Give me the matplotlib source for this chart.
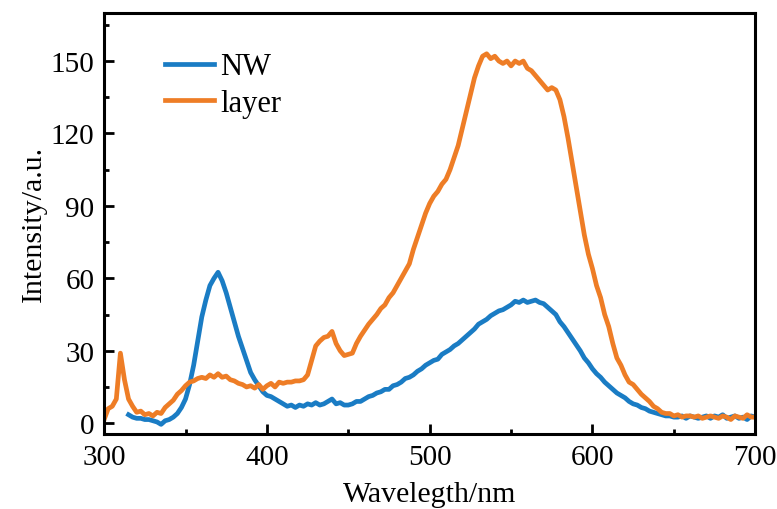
import numpy as np
import matplotlib
matplotlib.use("Agg")
import matplotlib.pyplot as plt
from matplotlib.ticker import MultipleLocator

# --- DATA (2.5 nm sampling) ---
STEP = 2.5

# layer: 300 .. 700 nm
layer = [
    1.5, 6, 7, 10, 29, 18, 10, 7, 4.5, 5,
    3.5, 4, 3, 4.5, 4, 6.5, 8, 9.5, 12, 13.5,
    15.5, 17, 17.5, 18.5, 19, 18.5, 20, 19, 20.5, 19,
    19.5, 18, 17.5, 16.5, 16, 15, 15.5, 14.5, 16, 14,
    15.5, 16.5, 15, 17, 16.5, 17, 17, 17.5, 17.5, 18,
    20, 26, 32, 34, 35.5, 36, 38, 33, 30, 28,
    28.5, 29, 33, 36, 38.5, 41, 43, 45, 47.5, 49,
    52, 54, 57, 60, 63, 66, 72, 77, 82, 87,
    91, 94, 96, 99, 101, 105, 110, 115, 122, 129,
    136, 143, 148, 152, 153, 151, 152, 150, 149, 150,
    148, 150, 149, 150, 147, 146, 144, 142, 140, 138,
    139, 138, 134, 127, 118, 108, 98, 88, 78, 70,
    64, 57, 52, 45, 40, 33, 27, 24, 20, 17,
    16, 14, 12, 10.5, 9, 7, 6, 4.5, 4, 4,
    3, 3.5, 2.5, 3, 3, 2.5, 3, 2, 2.5, 3,
    2.5, 2, 3, 2.5, 1.5, 3, 2.5, 2, 3.5, 2.5,
    2.5,
]

# NW: 315 .. 700 nm
nw = [
    3.5, 2.5, 2, 2, 1.5, 1.5, 1, 0.5, -0.5, 1,
    1.5, 2.5, 4, 6.5, 10, 16, 24, 34, 44, 51,
    57, 60, 62.5, 59, 54, 48, 42, 36, 31, 26,
    21, 18, 15.5, 13, 11.5, 11, 10, 9, 8, 7,
    7.5, 6.5, 7.5, 7, 8, 7.5, 8.5, 7.5, 8, 9,
    10, 8, 8.5, 7.5, 7.5, 8, 9, 9, 10, 11,
    11.5, 12.5, 13, 14, 14, 15.5, 16, 17, 18.5, 19,
    20, 21.5, 22.5, 24, 25, 26, 26.5, 28.5, 29.5, 30.5,
    32, 33, 34.5, 36, 37.5, 39, 41, 42, 43, 44.5,
    45.5, 46.5, 47, 48, 49, 50.5, 50, 51, 50, 50.5,
    51, 50, 49.5, 48, 46.5, 45, 42, 40, 37.5, 35,
    32.5, 30, 27, 25, 22.5, 20.5, 19, 17, 15.5, 14,
    12.5, 11.5, 10.5, 9, 8, 7.5, 6.5, 6, 5, 4.5,
    4, 3.5, 3, 3, 2.5, 2.5, 3, 2, 3, 2.5,
    2, 2.5, 3, 2, 3, 2.5, 3.5, 2, 2.5, 3,
    2, 2.5, 1.5, 3, 2.5,
]

wl_layer = 300 + STEP * np.arange(len(layer))
wl_nw = 315 + STEP * np.arange(len(nw))

# --- FIGURE ---
plt.rcParams['font.family'] = ['Liberation Serif', 'DejaVu Serif']

fig = plt.figure(figsize=(7.77, 5.10), dpi=100)
ax = fig.add_axes([0.134, 0.147, 0.838, 0.826])

ax.plot(wl_nw, nw, color='#1a7cc4', lw=3.4, label='NW')
ax.plot(wl_layer, layer, color='#ee7d26', lw=3.4, label='layer')

ax.set_xlim(300, 700)
ax.set_ylim(-4.5, 170)
ax.xaxis.set_major_locator(MultipleLocator(100))
ax.xaxis.set_minor_locator(MultipleLocator(50))
ax.yaxis.set_major_locator(MultipleLocator(30))
ax.yaxis.set_minor_locator(MultipleLocator(15))
ax.tick_params(which='both', direction='in', top=False, right=False,
               labelsize=21, width=2)
ax.tick_params(which='major', length=7, pad=7)
ax.tick_params(which='minor', length=3.5)
for s in ax.spines.values():
    s.set_linewidth(2.2)

ax.set_xlabel('Wavelegth/nm', fontsize=21.5, labelpad=8)
ax.set_ylabel('Intensity/a.u.', fontsize=21.5, labelpad=3)

ax.legend(loc='upper left', bbox_to_anchor=(0.075, 0.935), frameon=False,
          fontsize=22, handlelength=1.6, handletextpad=0.2,
          labelspacing=0.25, borderaxespad=0)

fig.savefig('out.png', dpi=100)
